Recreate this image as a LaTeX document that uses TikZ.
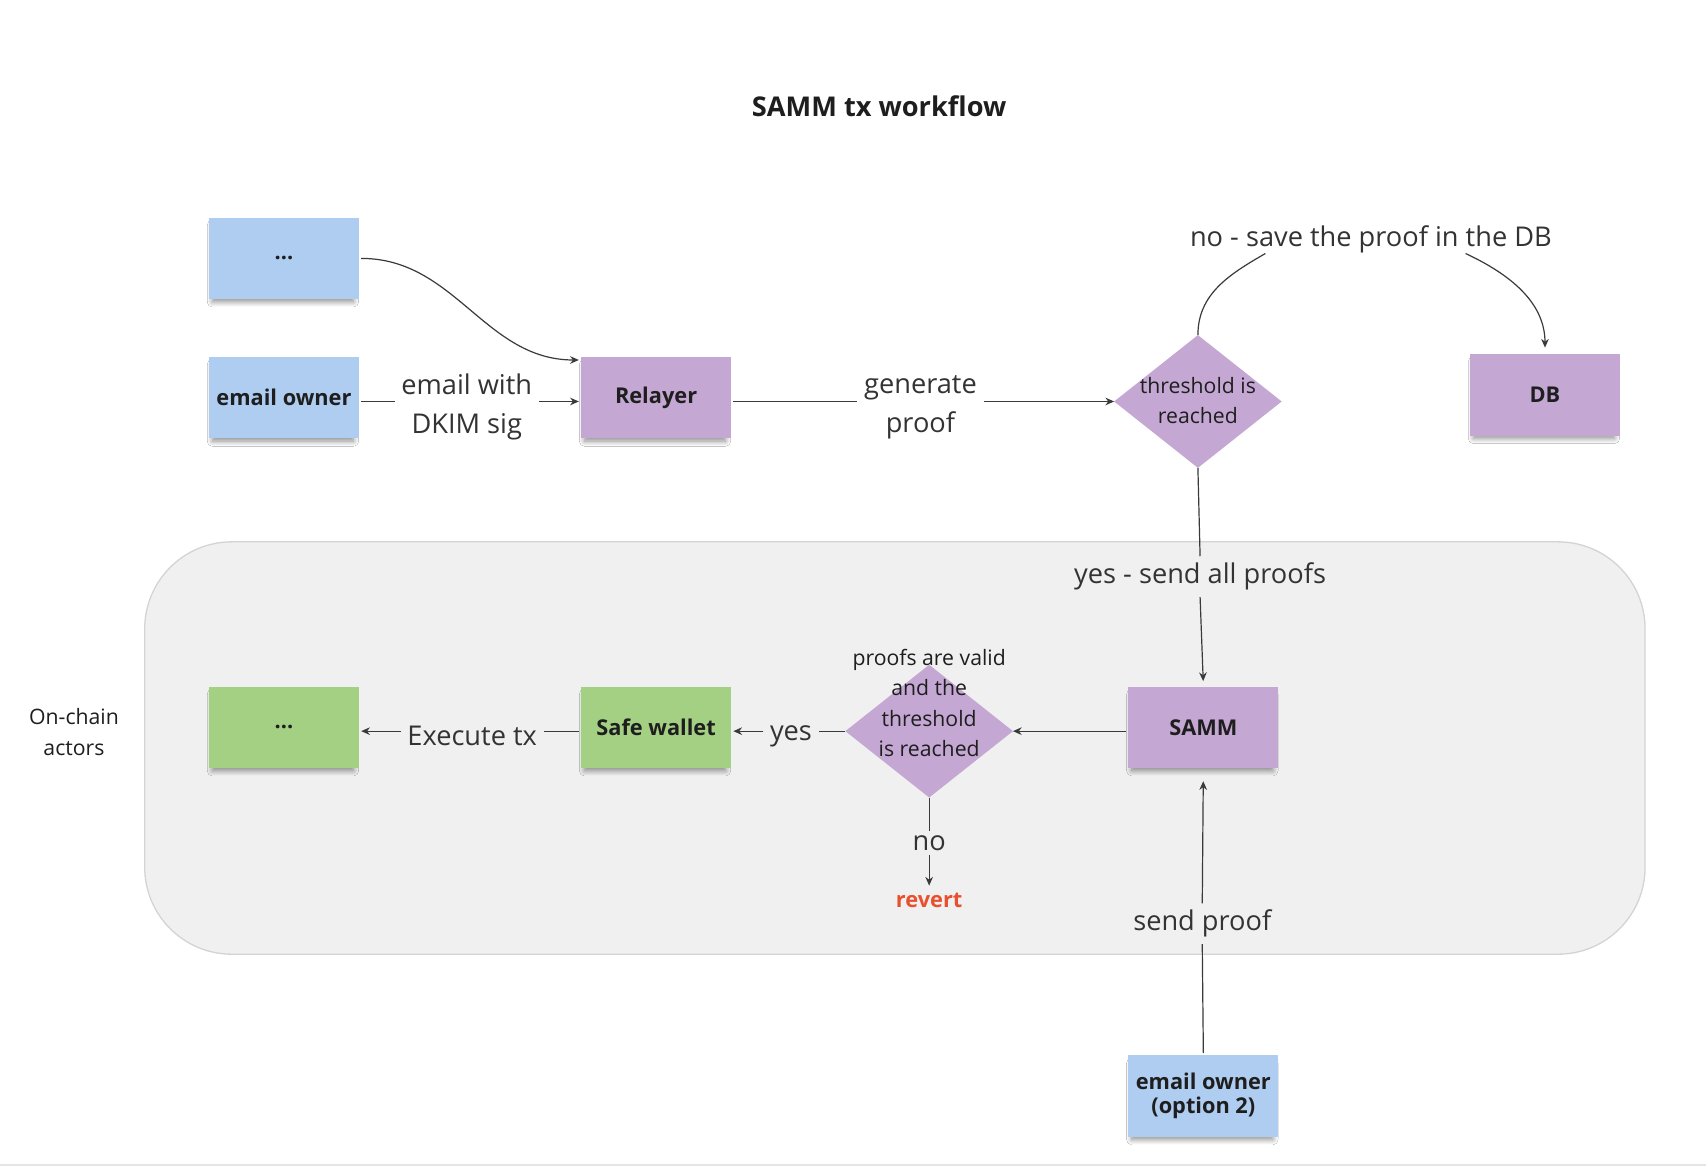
\documentclass[tikz,border=0pt]{standalone}
\usepackage{fontspec}
\setmainfont{Open Sans}
\usetikzlibrary{arrows.meta,shadows.blur,shapes.geometric}
\definecolor{stblue}{HTML}{AECDF1}
\definecolor{stpurple}{HTML}{C4A8D3}
\definecolor{stgreen}{HTML}{A3D083}
\definecolor{panel}{HTML}{F0F0F0}
\definecolor{panelline}{HTML}{D4D4D4}
\definecolor{ink}{HTML}{1E1E1E}
\definecolor{labink}{HTML}{333333}
\definecolor{wirec}{HTML}{3A3A3A}
\definecolor{revred}{HTML}{E8502E}
\tikzset{
  note/.style={rectangle, minimum width=138pt, minimum height=75pt, inner sep=0pt, outer sep=2pt,
    align=center, text=ink, font=\fontsize{20}{22}\selectfont\bfseries,
    blur shadow={shadow xshift=-1pt, shadow yshift=-5pt, shadow scale=0.94,
      shadow blur radius=5pt, shadow blur steps=12, shadow opacity=45}},
  dmd/.style={diamond, fill=stpurple, minimum width=154pt, minimum height=122pt, inner sep=0pt, outer sep=0pt},
  dtext/.style={align=center, text=ink, font=\fontsize{19.5}{28}\selectfont},
  lbl/.style={align=center, text=labink, font=\fontsize{25}{36}\selectfont, inner sep=6pt},
  wire/.style={draw=wirec, line width=1.1pt},
  arr/.style={wire, -{Stealth[length=8pt, width=7pt]}}
}
\begin{document}
\begin{tikzpicture}[x=1pt,y=-1pt]
\useasboundingbox (0,0) rectangle (1568,1073.5);
\fill[white] (0,0) rectangle (1568,1073.5);
\draw[gray!20, line width=1.5pt] (0,1071) -- (1568,1071);

% title
\node[font=\fontsize{25}{30}\selectfont\bfseries, text=ink] (title) at (808,98) {SAMM tx workflow};

% on-chain panel
\draw[fill=panel, draw=panelline, line width=1.2pt, rounded corners=80pt] (133,498) rectangle (1512,877);
\node[dtext] (onc) at (68,673) {On-chain\\actors};

% top row
\node[note, fill=stblue] (dots1) at (261,237.5) {...};
\node[note, fill=stblue] (eo) at (261,365.5) {email owner};
\node[note, fill=stpurple] (rel) at (603,365.5) {Relayer};
\node[dmd] (d1) at (1101,369) {};
\node[dtext] (d1t) at (1101,368) {threshold is\\reached};
\node[note, fill=stpurple] (db) at (1420,363) {DB};

% panel row
\node[note, fill=stgreen] (dots2) at (261,668.5) {...};
\node[note, fill=stgreen] (safe) at (603,668.5) {Safe wallet};
\node[dmd] (d2) at (854,672) {};
\node[dtext] (d2t) at (854,646) {proofs are valid\\and the\\threshold\\is reached};
\node[note, fill=stpurple] (samm) at (1106,668.5) {SAMM};
\node[font=\fontsize{20}{24}\selectfont\bfseries, text=revred, outer sep=4pt] (rev) at (854,828) {revert};

% bottom
\node[note, fill=stblue] (eo2) at (1106,1007.5) {email owner\\(option 2)};

% labels
\node[lbl] (l1) at (429,374) {email with\\DKIM sig};
\node[lbl] (l2) at (846,374) {generate\\proof};
\node[lbl] (l3) at (1260,220) {no - save the proof in the DB};
\coordinate (nA) at (1163,233);
\coordinate (nB) at (1347,233);
\node[lbl] (l4) at (1103,530) {yes - send all proofs};
\node[lbl] (l5) at (434,676) {Execute tx};
\node[lbl] (l6) at (727,677) {yes};
\node[lbl, inner sep=4pt] (l7) at (854,775) {no};
\node[lbl] (l8) at (1105,849) {send proof};

% connectors
\draw[arr] (dots1.east) to[out=0,in=180] (rel.154);
\draw[wire] (eo.east |- d1.west) -- (l1.west |- d1.west);
\draw[arr] (l1.east |- d1.west) -- (rel.west |- d1.west);
\draw[wire] (rel.east |- d1.west) -- (l2.west |- d1.west);
\draw[arr] (l2.east |- d1.west) -- (d1.west);
\draw[wire] (d1.north) to[out=90,in=210] (nA);
\draw[arr, shorten >=4pt] (nB) to[out=-25,in=90] (db.north);
\draw[wire] (d1.south) -- (l4.north);
\draw[arr, shorten >=3pt] (l4.south) -- (samm.north);
\draw[arr] (samm.west |- d2.east) -- (d2.east);
\draw[wire] (d2.west) -- (l6.east |- d2.west);
\draw[arr] (l6.west |- d2.west) -- (safe.east |- d2.west);
\draw[wire] (safe.west |- d2.west) -- (l5.east |- d2.west);
\draw[arr] (l5.west |- d2.west) -- (dots2.east |- d2.west);
\draw[wire] (d2.south) -- (l7.north);
\draw[arr] (l7.south) -- (rev.north);
\draw[wire] (eo2.north) -- (l8.south);
\draw[arr, shorten >=10pt] (l8.north) -- (samm.south);
\end{tikzpicture}
\end{document}
